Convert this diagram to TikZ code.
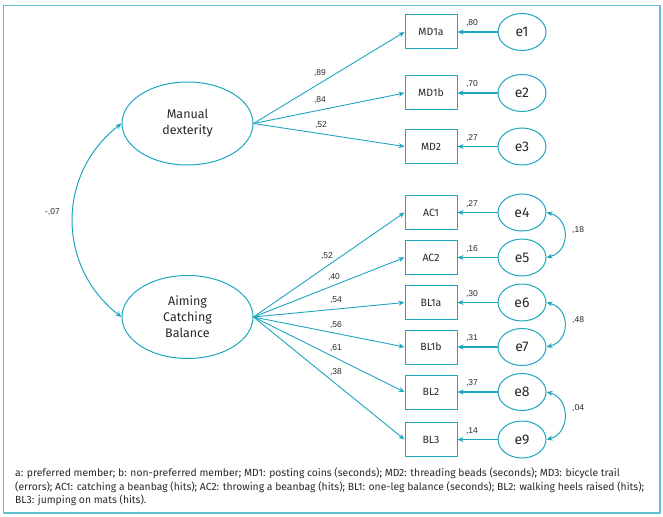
\documentclass[tikz,border=0pt]{standalone}
\usepackage{fontspec}
\setmainfont{Fira Sans}
\newfontfamily\numfont{Liberation Sans}
\usetikzlibrary{arrows.meta,shapes.geometric}
\definecolor{teal1}{RGB}{30,166,190}
\definecolor{frame1}{RGB}{100,192,208}
\definecolor{txt}{RGB}{40,40,40}
\begin{document}
\begin{tikzpicture}[x=1pt,y=-1pt, every node/.style={text=txt},
 obs/.style={draw=teal1, line width=1pt, minimum width=52pt, minimum height=34pt, inner sep=0, font=\fontsize{10.5}{12}\selectfont},
 err/.style={draw=teal1, ellipse, line width=1pt, minimum width=48pt, minimum height=37pt, inner sep=0, font=\fontsize{14}{16}\selectfont},
 lat/.style={draw=teal1, ellipse, line width=1pt, minimum width=131pt, minimum height=83pt, inner sep=0, align=center, font=\fontsize{12.5}{16}\selectfont},
 load/.style={draw=teal1, line width=0.9pt, -{Stealth[length=6pt,width=5pt]}},
 erra/.style={draw=teal1, line width=1.8pt, -{Stealth[length=6pt,width=5pt]}},
 cov/.style={draw=teal1, line width=1pt, {Stealth[length=6pt,width=5pt]}-{Stealth[length=6pt,width=5pt]}},
 coef/.style={font=\numfont\fontsize{8.5}{9}\selectfont, inner sep=0}
]
\useasboundingbox (0,0) rectangle (663,516);
\draw[frame1, line width=1.3pt] (3.5,5.5) rectangle (660,513);

% latent
\node[lat] (md) at (187.5,123.5) {Manual\\dexterity};
\node[lat] (acb) at (187.5,317) {Aiming\\Catching\\Balance};

% observed
\node[obs] (MD1a) at (431,32) {MD1a};
\node[obs] (MD1b) at (431,93) {MD1b};
\node[obs] (MD2) at (431,146.5) {MD2};
\node[obs] (AC1) at (431,212.5) {AC1};
\node[obs] (AC2) at (431,257.5) {AC2};
\node[obs] (BL1a) at (431,302.5) {BL1a};
\node[obs] (BL1b) at (431,347) {BL1b};
\node[obs] (BL2) at (431,392) {BL2};
\node[obs] (BL3) at (431,439.5) {BL3};

% errors
\node[err] (e1) at (522,32) {e1};
\node[err] (e2) at (522,93) {e2};
\node[err] (e3) at (522,146.5) {e3};
\node[err] (e4) at (522,212.5) {e4};
\node[err] (e5) at (522,257.5) {e5};
\node[err] (e6) at (522,302.5) {e6};
\node[err] (e7) at (522,347) {e7};
\node[err] (e8) at (522,392) {e8};
\node[err] (e9) at (522,439.5) {e9};

% loadings
\foreach \b in {MD1a,MD1b,MD2} \draw[load] (md.east) -- (\b.west);
\foreach \b in {AC1,AC2,BL1a,BL1b,BL2,BL3} \draw[load] (acb.east) -- (\b.west);

% error arrows
\foreach \e/\b in {e1/MD1a,e2/MD1b,e3/MD2,e4/AC1,e5/AC2,e6/BL1a,e7/BL1b,e8/BL2,e9/BL3}
  \draw[erra] (\e.west) -- (\b.east);

% covariances
\draw[cov] (md.west) .. controls +(-65,50) and +(-65,-50) .. (acb.west);
\draw[cov] (e4.east) .. controls +(24,6) and +(24,-6) .. (e5.east);
\draw[cov] (e6.east) .. controls +(24,6) and +(24,-6) .. (e7.east);
\draw[cov] (e8.east) .. controls +(24,6) and +(24,-6) .. (e9.east);

% coefficient labels
\node[coef] (l1) at (320,73) {,89};
\node[coef] (l2) at (320,100) {,84};
\node[coef] (l3) at (321,125) {,52};
\node[coef] (l4) at (327,256) {,52};
\node[coef] (l5) at (334,277) {,40};
\node[coef] (l6) at (336,300) {,54};
\node[coef] (l7) at (336,325) {,56};
\node[coef] (l8) at (336,348) {,61};
\node[coef] (l9) at (336,372) {,38};

\node[coef] (r1) at (472,23) {,80};
\node[coef] (r2) at (472,84) {,70};
\node[coef] (r3) at (472,138) {,27};
\node[coef] (r4) at (472,204) {,27};
\node[coef] (r5) at (472,249) {,16};
\node[coef] (r6) at (472,294) {,30};
\node[coef] (r7) at (472,338) {,31};
\node[coef] (r8) at (472,383) {,37};
\node[coef] (r9) at (472,431) {,14};

\node[coef, anchor=west] (c1) at (572,230) {,18};
\node[coef, anchor=west] (c2) at (572,320) {,48};
\node[coef, anchor=west] (c3) at (572,408) {,04};
\node[coef, anchor=east] (c0) at (60,212) {-,07};

% footnote
\node[anchor=north west, align=left, inner sep=0, font=\fontsize{10.35}{13.7}\selectfont] (fn) at (15,467.5)
{a: preferred member; b: non-preferred member; MD1: posting coins (seconds); MD2: threading beads (seconds); MD3: bicycle trail\\
(errors); AC1: catching a beanbag (hits); AC2: throwing a beanbag (hits); BL1: one-leg balance (seconds); BL2: walking heels raised (hits);\\
BL3: jumping on mats (hits).};
\end{tikzpicture}
\end{document}
